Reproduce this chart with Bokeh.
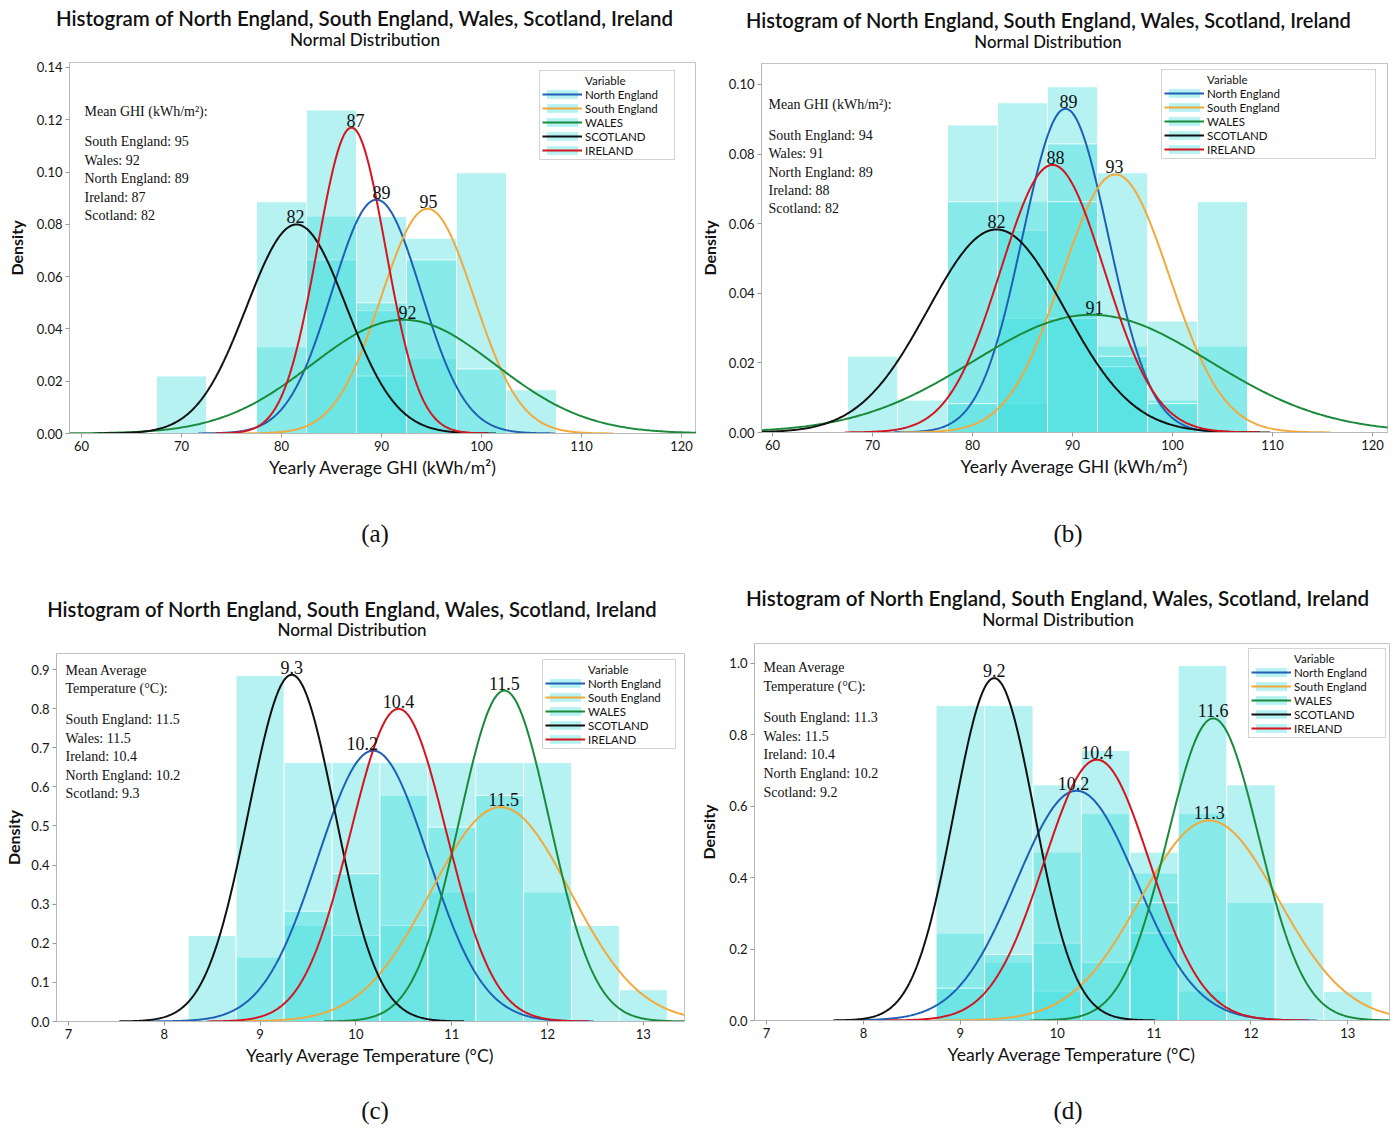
import numpy as np
from bokeh.plotting import figure
from bokeh.models import Legend, LegendItem, Range1d, FixedTicker, PrintfTickFormatter, Div
from bokeh.layouts import row, column
from bokeh.embed import file_html
from bokeh.resources import INLINE
from bokeh.core.properties import value

SANS = "Lato"
SERIF = "Liberation Serif"

SERIES = ["North England", "South England", "WALES", "SCOTLAND", "IRELAND"]
LINE_COLORS = ["#1f5fb4", "#f2a93b", "#1a8a3a", "#111111", "#d4141e"]
BAR_COLOR = "#3fdcdc"
BAR_ALPHA = 0.38

TITLE = "Histogram of North England, South England, Wales, Scotland, Ireland"
SUBTITLE = "Normal Distribution"
GHI_LABEL = "Yearly Average GHI (kWh/m\u00b2)"
TEMP_LABEL = "Yearly Average Temperature (\u00b0C)"

# ---------------- panel (a): GHI ----------------
a_bins = [70, 75, 80, 85, 90, 95, 100, 105]
a_north = [0, 0, 0, 0.0831, 0.0830, 0.0286, 0, 0]
a_south = [0, 0, 0, 0, 0, 0.0747, 0.0997, 0]
a_wales = [0, 0, 0.0331, 0, 0.0470, 0.0664, 0.0247, 0.0167]
a_scot = [0.0220, 0, 0.0886, 0.0664, 0.0220, 0, 0, 0]
a_irel = [0, 0, 0, 0.1237, 0.0500, 0, 0, 0]
a_mean = [89.5, 94.6, 92.2, 81.5, 87.0]
a_sd = [4.46, 4.64, 9.17, 4.99, 3.41]
a_peak_text = ["89", "95", "92", "82", "87"]
a_head = ["Mean GHI (kWh/m\u00b2):"]
a_lines = ["South England: 95", "Wales: 92", "North England: 89", "Ireland: 87", "Scotland: 82"]
a_xticks = [60, 70, 80, 90, 100, 110, 120]
a_yticks = [0.0, 0.02, 0.04, 0.06, 0.08, 0.10, 0.12, 0.14]

# ---------------- panel (b): GHI ----------------
b_bins = [70, 75, 80, 85, 90, 95, 100, 105]
b_north = [0, 0, 0, 0.0663, 0.0993, 0.0248, 0.0093, 0]
b_south = [0, 0, 0, 0.0083, 0.0829, 0.0746, 0, 0.0248]
b_wales = [0, 0, 0.0883, 0.0328, 0, 0, 0.0320, 0.0663]
b_scot = [0.0219, 0.0093, 0.0663, 0.0581, 0.0328, 0.0189, 0, 0]
b_irel = [0, 0, 0.0083, 0.0947, 0.0663, 0.0219, 0.0083, 0]
b_mean = [89.3, 94.3, 91.9, 82.4, 88.0]
b_sd = [4.29, 5.38, 11.8, 6.84, 5.19]
b_peak_text = ["89", "93", "91", "82", "88"]
b_head = ["Mean GHI (kWh/m\u00b2):"]
b_lines = ["South England: 94", "Wales: 91", "North England: 89", "Ireland: 88", "Scotland: 82"]
b_xticks = [60, 70, 80, 90, 100, 110, 120]
b_yticks = [0.0, 0.02, 0.04, 0.06, 0.08, 0.10]

# ---------------- panel (c): temperature ----------------
c_bins = [8.5, 9.0, 9.5, 10.0, 10.5, 11.0, 11.5, 12.0, 12.5, 13.0]
c_north = [0, 0.1645, 0.2455, 0.662, 0.578, 0.3307, 0, 0, 0, 0]
c_south = [0, 0, 0, 0, 0.2455, 0, 0.662, 0.3307, 0.2455, 0.081]
c_wales = [0, 0, 0, 0, 0, 0.662, 0.578, 0.662, 0, 0]
c_scot = [0.220, 0.885, 0.662, 0.220, 0, 0, 0, 0, 0, 0]
c_irel = [0, 0, 0.282, 0.378, 0.662, 0.497, 0, 0, 0, 0]
c_mean = [10.18, 11.51, 11.55, 9.33, 10.445]
c_sd = [0.576, 0.728, 0.4715, 0.45, 0.499]
c_peak_text = ["10.2", "11.5", "11.5", "9.3", "10.4"]
c_head = ["Mean Average", "Temperature (\u00b0C):"]
c_lines = ["South England: 11.5", "Wales: 11.5", "Ireland: 10.4", "North England: 10.2", "Scotland: 9.3"]
c_xticks = [7, 8, 9, 10, 11, 12, 13]
c_yticks = [0.0, 0.1, 0.2, 0.3, 0.4, 0.5, 0.6, 0.7, 0.8, 0.9]

# ---------------- panel (d): temperature ----------------
d_bins = [9.0, 9.5, 10.0, 10.5, 11.0, 11.5, 12.0, 12.5, 13.0]
d_north = [0.2446, 0.163, 0.4715, 0.579, 0.4127, 0.082, 0, 0, 0]
d_south = [0, 0, 0.082, 0, 0.4715, 0.579, 0.330, 0.330, 0.081]
d_wales = [0, 0, 0, 0.163, 0.2446, 0.994, 0.660, 0, 0]
d_scot = [0.882, 0.882, 0.2166, 0, 0, 0, 0, 0, 0]
d_irel = [0.0905, 0.185, 0.660, 0.756, 0.330, 0, 0, 0, 0]
d_mean = [10.2, 11.57, 11.61, 9.35, 10.41]
d_sd = [0.62, 0.712, 0.4715, 0.416, 0.546]
d_peak_text = ["10.2", "11.3", "11.6", "9.2", "10.4"]
d_head = ["Mean Average", "Temperature (\u00b0C):"]
d_lines = ["South England: 11.3", "Wales: 11.5", "Ireland: 10.4", "North England: 10.2", "Scotland: 9.2"]
d_xticks = [7, 8, 9, 10, 11, 12, 13]
d_yticks = [0.0, 0.2, 0.4, 0.6, 0.8, 1.0]


def text_div(width, height, items):
    parts = []
    for txt, cx, cy, family, size, weight in items:
        lh = round(size * 1.4)
        parts.append(
            f'<div style="position:absolute;left:{cx - 320:.1f}px;top:{cy - lh / 2:.1f}px;'
            f'width:640px;height:{lh}px;line-height:{lh}px;text-align:center;white-space:nowrap;'
            f"font-family:'{family}';font-size:{size}px;font-weight:{weight};color:#111111;\">{txt}</div>")
    html = (f'<div style="position:relative;width:{width}px;height:{height}px;overflow:hidden;">'
            + "".join(parts) + "</div>")
    return Div(text=html, width=width, height=height, margin=0)


def make_panel(bins, bw, heights, means, sds, peak_text, head, lines, xticks, yticks, yfmt,
               xlabel, lay):
    fw = lay["w"] - lay["mbl"] - lay["mbr"]
    fh = lay["h"] - lay["mbt"] - lay["mbb"]
    x0, x1 = lay["xr"]
    y0, y1 = lay["yr"]
    p = figure(width=lay["w"], height=lay["h"], x_range=Range1d(x0, x1), y_range=Range1d(y0, y1),
               output_backend="svg", toolbar_location=None, title=None, frame_align=False,
               min_border_left=lay["mbl"], min_border_right=lay["mbr"],
               min_border_top=lay["mbt"], min_border_bottom=lay["mbb"])
    p.xgrid.visible = False
    p.ygrid.visible = False
    p.outline_line_color = "#c4c4c4"
    p.background_fill_color = "white"
    p.border_fill_color = "white"

    for ax in (p.xaxis, p.yaxis):
        ax.axis_line_color = "#b8b8b8"
        ax.major_tick_line_color = "#999999"
        ax.minor_tick_line_color = None
        ax.major_tick_out = 4
        ax.major_tick_in = 0
        ax.major_label_text_font = SANS
        ax.major_label_text_font_size = "13px"
        ax.major_label_text_color = "#151515"
        ax.axis_label_text_font = SANS
        ax.axis_label_text_color = "#111111"
    p.xaxis.ticker = FixedTicker(ticks=xticks)
    p.yaxis.ticker = FixedTicker(ticks=yticks)
    p.yaxis.formatter = PrintfTickFormatter(format=yfmt)
    p.xaxis.major_label_standoff = 3
    p.yaxis.major_label_standoff = 3
    p.xaxis.axis_label = xlabel
    p.xaxis.axis_label_text_font_size = "17.6px"
    p.xaxis.axis_label_text_font_style = "normal"
    p.xaxis.axis_label_standoff = 3
    p.yaxis.axis_label = "Density"
    p.yaxis.axis_label_text_font_size = "16px"
    p.yaxis.axis_label_text_font_style = "bold"
    p.yaxis.axis_label_standoff = lay["ylab_st"]

    bar_r = []
    for hs in heights:
        cx = [b for b, h in zip(bins, hs) if h > 0]
        hh = [h for h in hs if h > 0]
        r = p.quad(left=[c - bw / 2 for c in cx], right=[c + bw / 2 for c in cx], bottom=0, top=hh,
                   fill_color=BAR_COLOR, fill_alpha=BAR_ALPHA, line_color="white",
                   line_alpha=0.8, line_width=1)
        bar_r.append(r)

    line_r = []
    for i, (mu, sd) in enumerate(zip(means, sds)):
        xs = np.linspace(mu - 4 * sd, mu + 4 * sd, 400)
        ys = np.exp(-0.5 * ((xs - mu) / sd) ** 2) / (sd * np.sqrt(2 * np.pi))
        r = p.line(xs, ys, line_color=LINE_COLORS[i], line_width=2)
        line_r.append(r)

    peaks = [1.0 / (sd * np.sqrt(2 * np.pi)) for sd in sds]
    p.text(x=means, y=peaks, text=peak_text, x_offset=lay["lab_dx"], text_font=value(SERIF),
           text_font_size="18px", text_align="center", text_baseline="bottom", y_offset=-1,
           text_color="#111111")

    # helpers: frame-pixel offsets -> data coordinates
    def xd(px):
        return x0 + px / fw * (x1 - x0)

    def yd(px):
        return y1 - px / fh * (y1 - y0)

    ty = [yd(v) for v in lay["head_off"]] + [yd(lay["val_start"] + k * lay["pitch"]) for k in range(len(lines))]
    tt = head + lines
    p.text(x=[xd(lay["info_x"])] * len(tt), y=ty, text=tt, text_font=value(SERIF),
           text_font_size="14px", text_align="left", text_baseline="middle", text_color="#111111")

    dummy = p.line(x=[], y=[], line_alpha=0)
    items = [LegendItem(label="Variable", renderers=[dummy])]
    for i, name in enumerate(SERIES):
        items.append(LegendItem(label=name, renderers=[bar_r[i], line_r[i]]))
    leg = Legend(items=items, location=lay["leg"], padding=2, spacing=0, margin=0,
                 label_height=14, glyph_height=12, glyph_width=40, label_standoff=3,
                 label_width=lay["leg_lw"],
                 label_text_font=SANS, label_text_font_size="11.5px", label_text_color="#111111",
                 border_line_color="#a8a8a8", border_line_width=1, background_fill_alpha=1.0)
    p.add_layout(leg)
    return p


# layout numbers (pixels); page origin at the top-left corner
lay_a = dict(w=696, h=429, mbl=69, mbr=0, mbt=8, mbb=50, xr=(58.8, 121.5), yr=(0, 0.1419),
             ylab_st=8, info_x=15, head_off=[49], val_start=79, pitch=18.5, leg=(470, 273), leg_lw=87,
             lab_dx=[5, 1, 4, -1, 4])
lay_b = dict(w=694, h=429, mbl=65, mbr=3, mbt=9, mbb=51, xr=(58.9, 121.5), yr=(0, 0.106),
             ylab_st=7, info_x=7, head_off=[41], val_start=72, pitch=18.3, leg=(400, 273), leg_lw=166,
             lab_dx=[3, -1, 3, 0, 3])
lay_c = dict(w=690, h=429, mbl=56, mbr=6, mbt=11, mbb=50, xr=(6.875, 13.43), yr=(0, 0.941),
             ylab_st=5, info_x=9, head_off=[17, 35], val_start=66, pitch=18.5, leg=(486, 272), leg_lw=85,
             lab_dx=[-11, 3, 0, 0, 0])
lay_d = dict(w=703, h=429, mbl=64, mbr=4, mbt=1, mbb=51, xr=(6.876, 13.43), yr=(0, 1.056),
             ylab_st=8, info_x=9, head_off=[24, 43], val_start=74, pitch=18.7, leg=(494, 282), leg_lw=89,
             lab_dx=[-3, 0, 0, 0, 0])

pa = make_panel(a_bins, 5, [a_north, a_south, a_wales, a_scot, a_irel], a_mean, a_sd, a_peak_text,
                a_head, a_lines, a_xticks, a_yticks, "%.2f", GHI_LABEL, lay_a)
pb = make_panel(b_bins, 5, [b_north, b_south, b_wales, b_scot, b_irel], b_mean, b_sd, b_peak_text,
                b_head, b_lines, b_xticks, b_yticks, "%.2f", GHI_LABEL, lay_b)
pc = make_panel(c_bins, 0.5, [c_north, c_south, c_wales, c_scot, c_irel], c_mean, c_sd, c_peak_text,
                c_head, c_lines, c_xticks, c_yticks, "%.1f", TEMP_LABEL, lay_c)
pd = make_panel(d_bins, 0.5, [d_north, d_south, d_wales, d_scot, d_irel], d_mean, d_sd, d_peak_text,
                d_head, d_lines, d_xticks, d_yticks, "%.1f", TEMP_LABEL, lay_d)

# titles (main + subtitle) and captions
TW, SW = 600, 500
ta = text_div(696, 54, [(TITLE, 364.5, 18, SANS, 20.45, TW), (SUBTITLE, 365, 40, SANS, 17.1, SW)])
tb = text_div(694, 54, [(TITLE, 352.5, 20, SANS, 20.05, TW), (SUBTITLE, 352, 42, SANS, 16.8, SW)])
tc = text_div(690, 58, [(TITLE, 352, 25, SANS, 20.2, TW), (SUBTITLE, 352, 46, SANS, 17.0, SW)])
td = text_div(703, 58, [(TITLE, 367.5, 14, SANS, 20.65, TW), (SUBTITLE, 368, 36, SANS, 17.3, SW)])
ca = text_div(696, 101, [("(a)", 375, 50, SERIF, 25, 400)])
cb = text_div(694, 101, [("(b)", 372, 50, SERIF, 25, 400)])
cc = text_div(690, 54, [("(c)", 375, 39, SERIF, 25, 400)])
cd = text_div(703, 54, [("(d)", 378, 39, SERIF, 25, 400)])

layout = column(row(column(ta, pa, ca), column(tb, pb, cb)),
                row(column(tc, pc, cc), column(td, pd, cd)))
open("out.html", "w").write(file_html(layout, INLINE))
